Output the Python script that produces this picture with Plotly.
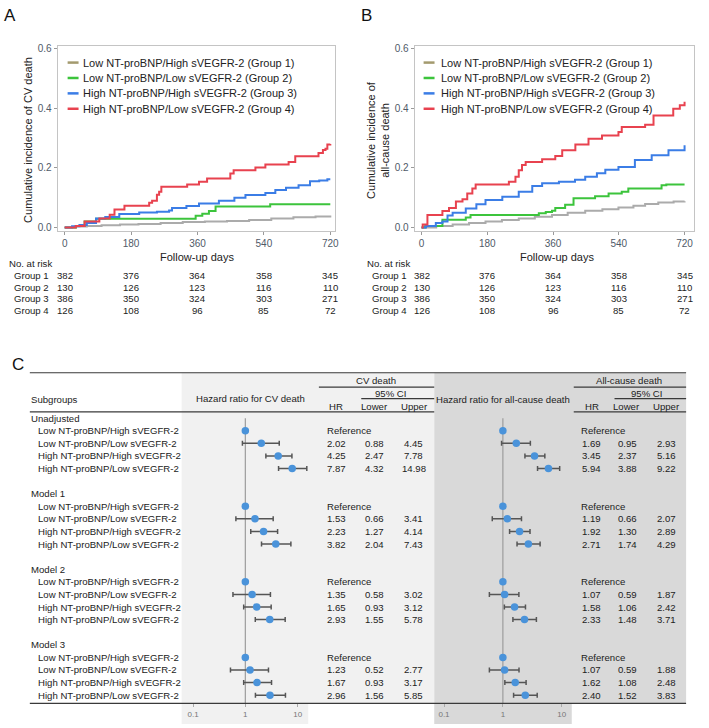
import plotly.graph_objects as go

W, H = 709, 728
def px(x): return x / W
def py(y): return 1 - y / H

FONT = "Liberation Sans, Arial, sans-serif"

# ---------------- Data: Kaplan-Meier style cumulative incidence ----------------
group_names = ["Low NT-proBNP/High sVEGFR-2 (Group 1)",
               "Low NT-proBNP/Low sVEGFR-2 (Group 2)",
               "High NT-proBNP/High sVEGFR-2 (Group 3)",
               "High NT-proBNP/Low sVEGFR-2 (Group 4)"]
group_colors = ["#ababab", "#3cc43c", "#3b7de6", "#e8424f"]
legend_colors = ["#a39a6e", "#3cc43c", "#3b7de6", "#e8424f"]

# CV death
cv_g1_t = [0, 30, 60, 100, 150, 200, 260, 320, 380, 440, 500, 560, 620, 680, 720]
cv_g1_y = [0, 0.003, 0.005, 0.007, 0.01, 0.012, 0.015, 0.018, 0.02, 0.022, 0.025, 0.03, 0.034, 0.037, 0.04]
cv_g2_t = [0, 30, 54, 85, 355, 373, 391, 409, 557, 720]
cv_g2_y = [0, 0.005, 0.02, 0.029, 0.039, 0.046, 0.055, 0.07, 0.078, 0.078]
cv_g3_t = [0, 20, 40, 60, 85, 110, 148, 202, 250, 283, 291, 330, 364, 418, 460, 490, 544, 571, 600, 634, 665, 690, 712, 720]
cv_g3_y = [0, 0.004, 0.008, 0.015, 0.03, 0.035, 0.045, 0.05, 0.053, 0.057, 0.065, 0.072, 0.08, 0.09, 0.1, 0.109, 0.116, 0.126, 0.133, 0.142, 0.155, 0.158, 0.162, 0.162]
cv_g4_t = [0, 30, 54, 94, 122, 135, 162, 229, 237, 250, 256, 262, 332, 364, 386, 449, 458, 517, 544, 607, 625, 688, 700, 707, 712, 720]
cv_g4_y = [0, 0.005, 0.02, 0.03, 0.043, 0.06, 0.073, 0.083, 0.09, 0.11, 0.12, 0.137, 0.144, 0.153, 0.164, 0.181, 0.192, 0.201, 0.211, 0.22, 0.239, 0.25, 0.26, 0.264, 0.278, 0.28]

# All-cause death
ac_g1_t = [0, 40, 85, 130, 175, 220, 266, 310, 357, 400, 448, 495, 539, 580, 612, 648, 690, 720]
ac_g1_y = [0, 0.005, 0.01, 0.015, 0.02, 0.025, 0.03, 0.036, 0.042, 0.049, 0.056, 0.061, 0.067, 0.073, 0.079, 0.084, 0.087, 0.088]
ac_g2_t = [0, 10, 57, 121, 134, 321, 340, 357, 366, 393, 416, 475, 512, 548, 566, 657, 670, 720]
ac_g2_y = [0, 0.005, 0.026, 0.033, 0.042, 0.048, 0.052, 0.056, 0.065, 0.076, 0.098, 0.105, 0.114, 0.12, 0.131, 0.142, 0.144, 0.144]
ac_g3_t = [0, 12, 39, 57, 71, 85, 121, 150, 175, 221, 266, 303, 330, 376, 420, 448, 480, 503, 539, 584, 630, 676, 720]
ac_g3_y = [0, 0.005, 0.015, 0.02, 0.04, 0.049, 0.064, 0.078, 0.092, 0.103, 0.12, 0.139, 0.148, 0.153, 0.16, 0.17, 0.182, 0.194, 0.203, 0.226, 0.242, 0.259, 0.276]
ac_g4_t = [0, 3, 16, 57, 75, 94, 112, 125, 139, 148, 239, 257, 266, 275, 285, 330, 366, 385, 421, 457, 494, 539, 548, 612, 635, 689, 707, 720]
ac_g4_y = [0, 0.01, 0.042, 0.055, 0.065, 0.087, 0.095, 0.114, 0.131, 0.144, 0.153, 0.17, 0.192, 0.21, 0.22, 0.229, 0.24, 0.259, 0.278, 0.298, 0.309, 0.32, 0.337, 0.345, 0.376, 0.398, 0.41, 0.422]

risk_days = [0, 180, 360, 540, 720]
risk_labels = ["Group 1", "Group 2", "Group 3", "Group 4"]
risk_g1 = [382, 376, 364, 358, 345]
risk_g2 = [130, 126, 123, 116, 110]
risk_g3 = [386, 350, 324, 303, 271]
risk_g4 = [126, 108, 96, 85, 72]

x_ticks = [0, 180, 360, 540, 720]
y_ticks = [0.0, 0.2, 0.4, 0.6]

# ---------------- Data: forest plot ----------------
models = ["Unadjusted", "Model 1", "Model 2", "Model 3"]
subgroups = ["Low NT-proBNP/High sVEGFR-2", "Low NT-proBNP/Low sVEGFR-2",
             "High NT-proBNP/High sVEGFR-2", "High NT-proBNP/Low sVEGFR-2"]
cv_hr = [[1, 2.02, 4.25, 7.87], [1, 1.53, 2.23, 3.82], [1, 1.35, 1.65, 2.93], [1, 1.23, 1.67, 2.96]]
cv_lo = [[None, 0.88, 2.47, 4.32], [None, 0.66, 1.27, 2.04], [None, 0.58, 0.93, 1.55], [None, 0.52, 0.93, 1.56]]
cv_up = [[None, 4.45, 7.78, 14.98], [None, 3.41, 4.14, 7.43], [None, 3.02, 3.12, 5.78], [None, 2.77, 3.17, 5.85]]
ac_hr = [[1, 1.69, 3.45, 5.94], [1, 1.19, 1.92, 2.71], [1, 1.07, 1.58, 2.33], [1, 1.07, 1.62, 2.40]]
ac_lo = [[None, 0.95, 2.37, 3.88], [None, 0.66, 1.30, 1.74], [None, 0.59, 1.06, 1.48], [None, 0.59, 1.08, 1.52]]
ac_up = [[None, 2.93, 5.16, 9.22], [None, 2.07, 2.89, 4.29], [None, 1.87, 2.42, 3.71], [None, 1.88, 2.48, 3.83]]
forest_ticks = [0.1, 1, 10]

fig = go.Figure()
annotations = []
shapes = []

def txt(x, y, s, size=9.6, xanchor="left", color="#222", xref="paper", yref="paper", **kw):
    xx = px(x) if xref == "paper" else x
    yy = py(y) if yref == "paper" else y
    annotations.append(dict(x=xx, y=yy, xref=xref, yref=yref, text=s, showarrow=False,
                            xanchor=xanchor, yanchor="middle",
                            font=dict(family=FONT, size=size, color=color), borderpad=0, **kw))

def hline(x0, x1, y, color="#3a3a3a", width=1.2):
    shapes.append(dict(type="line", xref="paper", yref="paper", x0=px(x0), x1=px(x1),
                       y0=py(y), y1=py(y), line=dict(color=color, width=width), layer="above"))

# ---------------- KM panels ----------------
cv_sets = [(cv_g1_t, cv_g1_y), (cv_g2_t, cv_g2_y), (cv_g3_t, cv_g3_y), (cv_g4_t, cv_g4_y)]
ac_sets = [(ac_g1_t, ac_g1_y), (ac_g2_t, ac_g2_y), (ac_g3_t, ac_g3_y), (ac_g4_t, ac_g4_y)]
for (t, y), c in zip(cv_sets, group_colors):
    fig.add_trace(go.Scatter(x=t, y=y, mode="lines", line=dict(color=c, width=2, shape="hv"),
                             xaxis="x", yaxis="y", hoverinfo="skip"))
for (t, y), c in zip(ac_sets, group_colors):
    fig.add_trace(go.Scatter(x=t, y=y, mode="lines", line=dict(color=c, width=2, shape="hv"),
                             xaxis="x2", yaxis="y2", hoverinfo="skip"))

km_axis_common = dict(showgrid=False, zeroline=False, showline=True, mirror=True,
                      linecolor="#c4c4c4", linewidth=1, ticks="outside", ticklen=3,
                      tickcolor="#9a9a9a", tickfont=dict(family=FONT, size=10, color="#4f5a68"))

# panel letters
txt(3, 13, "A", size=17, color="#111")
txt(362, 13, "B", size=17, color="#111")
txt(11, 364, "C", size=17, color="#111")

# y-axis titles
txt(28, 138, "Cumulative incidence of CV death", size=11, xanchor="center", textangle=-90, color="#222")
txt(380, 138, "Cumulative incidence of<br>all-cause death", size=11, xanchor="center", textangle=-90, color="#222")

# legends
leg_y = [60, 75.5, 91, 106.5]
for lx0, tx in [(68, 82), (426, 442)]:
    for yy, name, c in zip(leg_y, group_names, legend_colors):
        shapes.append(dict(type="line", xref="paper", yref="paper", x0=px(lx0), x1=px(lx0 + 11),
                           y0=py(yy), y1=py(yy), line=dict(color=c, width=2.5)))
        txt(tx, yy, name, size=11, color="#222")

# x-axis titles
txt(198, 256, "Follow-up days", size=11, xanchor="center")
txt(560, 256, "Follow-up days", size=11, xanchor="center")

# risk tables
risk_rows = [risk_g1, risk_g2, risk_g3, risk_g4]
risk_y = [274.3, 286.2, 298, 309.8]
for xref, nx, gx in [("x", 8, 13), ("x2", 368, 373)]:
    txt(nx, 262, "No. at risk", size=9.6)
    for yy, lab, vals in zip(risk_y, risk_labels, risk_rows):
        txt(gx, yy, lab, size=9.6)
        for d, v in zip(risk_days, vals):
            txt(d, yy, str(v), size=9.6, xanchor="center", xref=xref)

# ---------------- Panel C ----------------
shapes.append(dict(type="rect", xref="paper", yref="paper", x0=px(182.7), x1=px(436.7), y0=py(705), y1=py(372.3),
                   fillcolor="#f1f1f1", line=dict(width=0), layer="below"))
shapes.append(dict(type="rect", xref="paper", yref="paper", x0=px(182.7), x1=px(310), y0=py(726), y1=py(705),
                   fillcolor="#f1f1f1", line=dict(width=0), layer="below"))
shapes.append(dict(type="rect", xref="paper", yref="paper", x0=px(436.7), x1=px(690), y0=py(705), y1=py(372.3),
                   fillcolor="#d9d9d9", line=dict(width=0), layer="below"))
shapes.append(dict(type="rect", xref="paper", yref="paper", x0=px(436.7), x1=px(575), y0=py(726), y1=py(705),
                   fillcolor="#d9d9d9", line=dict(width=0), layer="below"))

hline(30, 690, 372.3)
hline(30, 436.7, 411.7)
hline(577, 690, 411.7)
hline(320.7, 436.7, 386.7)
hline(363.3, 436.7, 398.3)
hline(577, 690, 386.7)
hline(618, 690, 398.3)
hline(30, 690, 705.3)

txt(30, 399, "Subgroups")
txt(252, 398, "Hazard ratio for CV death", xanchor="center")
txt(378, 380, "CV death", xanchor="center")
txt(393, 393, "95% CI", xanchor="center")
txt(338, 406, "HR", xanchor="center")
txt(377, 406, "Lower", xanchor="center")
txt(417, 406, "Upper", xanchor="center")
txt(506, 399, "Hazard ratio for all-cause death", xanchor="center")
txt(633, 380, "All-cause death", xanchor="center")
txt(650, 393, "95% CI", xanchor="center")
txt(595, 406, "HR", xanchor="center")
txt(630, 406, "Lower", xanchor="center")
txt(670, 406, "Upper", xanchor="center")

ROW_PX = 12.68
ROW0 = 418.0
y_top_idx = (372.3 - ROW0) / ROW_PX
y_bot_idx = (705.3 - ROW0) / ROW_PX

cols = {"cv": (328, 338, 377, 416), "ac": (583, 595, 631, 670)}
for m, model in enumerate(models):
    base = 6 * m
    txt(30, base, model, xref="paper", yref="y3")
    for i, sg in enumerate(subgroups):
        r = base + 1 + i
        txt(37, r, sg, yref="y3")
        for key, hr, lo, up in [("cv", cv_hr, cv_lo, cv_up), ("ac", ac_hr, ac_lo, ac_up)]:
            refx, hx, lx, ux = cols[key]
            if lo[m][i] is None:
                txt(refx, r, "Reference", yref="y3")
            else:
                txt(hx, r, f"{hr[m][i]:.2f}", yref="y3", xanchor="center")
                txt(lx, r, f"{lo[m][i]:.2f}", yref="y3", xanchor="center")
                txt(ux, r, f"{up[m][i]:.2f}", yref="y3", xanchor="center")

for key, hr, lo, up, xa, ya in [("cv", cv_hr, cv_lo, cv_up, "x3", "y3"), ("ac", ac_hr, ac_lo, ac_up, "x4", "y4")]:
    fig.add_trace(go.Scatter(x=[1, 1], y=[0, y_bot_idx], mode="lines", line=dict(color="#9c9c9c", width=1.2),
                             xaxis=xa, yaxis=ya, hoverinfo="skip"))
    ex, ey, ep, em = [], [], [], []
    rx, ry = [], []
    for m in range(4):
        for i in range(4):
            r = 6 * m + 1 + i
            rx.append(hr[m][i]); ry.append(r)
            if lo[m][i] is not None:
                ex.append(hr[m][i]); ey.append(r)
                ep.append(up[m][i] - hr[m][i]); em.append(hr[m][i] - lo[m][i])
    fig.add_trace(go.Scatter(x=ex, y=ey, mode="markers", marker=dict(size=1, color="rgba(0,0,0,0)"),
                             error_x=dict(type="data", symmetric=False, array=ep, arrayminus=em,
                                          color="#555555", thickness=1.5, width=2.5),
                             xaxis=xa, yaxis=ya, hoverinfo="skip"))
    fig.add_trace(go.Scatter(x=rx, y=ry, mode="markers", marker=dict(size=7.5, color="#4a93da"),
                             xaxis=xa, yaxis=ya, hoverinfo="skip", cliponaxis=False))

forest_x_common = dict(type="log", showgrid=False, zeroline=False, showline=False,
                       tickvals=forest_ticks, ticktext=["0.1", "1", "10"], ticks="outside", ticklen=3,
                       tickcolor="#aaaaaa", tickfont=dict(family=FONT, size=8, color="#777777"))
forest_y_common = dict(range=[y_bot_idx, y_top_idx], visible=False,
                       domain=[py(705.3), py(372.3)])

fig.update_layout(
    width=W, height=H, margin=dict(l=0, r=0, t=0, b=0),
    paper_bgcolor="white", plot_bgcolor="rgba(0,0,0,0)", showlegend=False,
    hovermode=False,
    xaxis=dict(domain=[px(58), px(337)], range=[-19, 733], anchor="y",
               tickvals=x_ticks, ticktext=[str(v) for v in x_ticks], **km_axis_common),
    yaxis=dict(domain=[py(230), py(43)], range=[-0.0133, 0.61], anchor="x",
               tickvals=y_ticks, ticktext=[f"{v:.1f}" for v in y_ticks], **km_axis_common),
    xaxis2=dict(domain=[px(417), px(698)], range=[-19, 746], anchor="y2",
                tickvals=x_ticks, ticktext=[str(v) for v in x_ticks], **km_axis_common),
    yaxis2=dict(domain=[py(230), py(43)], range=[-0.0133, 0.61], anchor="x2",
                tickvals=y_ticks, ticktext=[f"{v:.1f}" for v in y_ticks], **km_axis_common),
    xaxis3=dict(domain=[px(182.7), px(310)], range=[-1.217, 1.203], anchor="y3", **forest_x_common),
    yaxis3=dict(anchor="x3", **forest_y_common),
    xaxis4=dict(domain=[px(436.7), px(575)], range=[-1.166, 1.17], anchor="y4", **forest_x_common),
    yaxis4=dict(anchor="x4", **forest_y_common),
    annotations=annotations, shapes=shapes,
    font=dict(family=FONT),
)

fig.write_html("out.html", config={"displayModeBar": False, "staticPlot": True},
               post_script="document.body.style.margin='0';document.body.style.padding='0';"
                           "document.body.style.overflow='hidden';")
